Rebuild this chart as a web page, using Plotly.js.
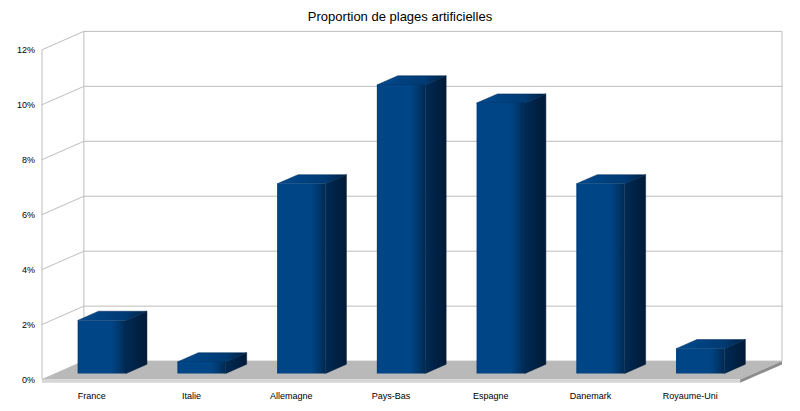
<!DOCTYPE html>
<html>
<head>
<meta charset="utf-8">
<script src="https://cdn.plot.ly/plotly-3.0.1.min.js"></script>
<style>
  body { margin: 0; background: #fff; }
  #chart { width: 800px; height: 411px; }
</style>
</head>
<body>
<div id="chart"></div>
<script>
        // data (percent)
        const countries = ["France", "Italie", "Allemagne", "Pays-Bas", "Espagne", "Danemark", "Royaume-Uni"];
        const shares = [1.93, 0.42, 6.9, 10.5, 9.84, 6.9, 0.9];
        const yTicks = [0, 2, 4, 6, 8, 10, 12];
        const yTickText = ["0%", "2%", "4%", "6%", "8%", "10%", "12%"];

        // fake 3D: oblique offset from front plane to back wall, in axis units
        const backDx = 0.42, backDy = 0.67;
        const faceDx = 0.1, faceDy = 0.22;   // front face of the bars
        const depthDx = 0.21, depthDy = 0.335; // bar depth
        const barW = 0.485;

        let traces = [];
        shares.forEach((v, i) => {
            let x0 = i - barW / 2 + faceDx, x1 = i + barW / 2 + faceDx;
            let y0 = faceDy, y1 = faceDy + v;
            // right side
            traces.push({
                x: [x1, x1 + depthDx, x1 + depthDx, x1, x1],
                y: [y0, y0 + depthDy, y1 + depthDy, y1, y0],
                type: 'scatter', mode: 'lines', fill: 'toself',
                line: { width: 0.5, color: '#001a36' },
                fillgradient: { type: 'horizontal', colorscale: [[0, '#002a55'], [1, '#001a36']] },
                hoverinfo: 'skip', showlegend: false
            });
            // top
            traces.push({
                x: [x0, x1, x1 + depthDx, x0 + depthDx, x0],
                y: [y1, y1, y1 + depthDy, y1 + depthDy, y1],
                type: 'scatter', mode: 'lines', fill: 'toself',
                line: { width: 0.5, color: '#002a55' },
                fillgradient: { type: 'horizontal', colorscale: [[0, '#004a8e'], [0.7, '#003a73'], [1, '#001f40']] },
                hoverinfo: 'skip', showlegend: false
            });
            // front
            traces.push({
                x: [x0, x1, x1, x0, x0],
                y: [y0, y0, y1, y1, y0],
                type: 'scatter', mode: 'lines', fill: 'toself',
                line: { width: 0 },
                fillgradient: { type: 'horizontal', colorscale: [[0, '#003f7c'], [0.06, '#004586'], [0.7, '#004586'], [0.88, '#003669'], [1, '#002850']] },
                text: countries[i] + ': ' + v + '%', hoverinfo: 'text', showlegend: false
            });
        });

        const grid = '#bdbdbd';
        let shapes = [];
        // floor
        shapes.push({ type: 'path', layer: 'below', path: 'M-0.5,0 L6.5,0 L6.92,0.67 L-0.08,0.67 Z', fillcolor: '#b9b9b9', line: { width: 0 } });
        shapes.push({ type: 'path', layer: 'below', path: 'M-0.5,0 L6.5,0 L6.5,-0.12 L-0.5,-0.12 Z', fillcolor: '#d6d6d6', line: { width: 0 } });
        shapes.push({ type: 'path', layer: 'below', path: 'M6.5,0 L6.92,0.67 L6.92,0.55 L6.5,-0.12 Z', fillcolor: '#8c8c8c', line: { width: 0 } });
        // walls
        yTicks.forEach(t => {
            shapes.push({ type: 'line', layer: 'below', x0: -0.08, x1: 6.92, y0: t + backDy, y1: t + backDy, line: { color: grid, width: 1 } });
            shapes.push({ type: 'line', layer: 'below', x0: -0.5, x1: -0.08, y0: t, y1: t + backDy, line: { color: grid, width: 1 } });
        });
        shapes.push({ type: 'line', layer: 'below', x0: -0.5, x1: -0.5, y0: 0, y1: 12, line: { color: grid, width: 1 } });
        shapes.push({ type: 'line', layer: 'below', x0: -0.08, x1: -0.08, y0: backDy, y1: 12 + backDy, line: { color: grid, width: 1 } });
        shapes.push({ type: 'line', layer: 'below', x0: 6.92, x1: 6.92, y0: backDy, y1: 12 + backDy, line: { color: grid, width: 1 } });

        const layout = {
            width: 800, height: 411,
            margin: { l: 40, r: 14, t: 30, b: 26 },
            paper_bgcolor: '#ffffff', plot_bgcolor: 'rgba(0,0,0,0)',
            font: { family: 'Liberation Sans, Arial, sans-serif', size: 9, color: '#000' },
            title: { text: 'Proportion de plages artificielles', font: { size: 13, color: '#000' }, x: 0.5, xanchor: 'center', y: 0.972, yanchor: 'top' },
            xaxis: {
                range: [-0.52, 6.96], tickvals: countries.map((c, i) => i), ticktext: countries,
                showgrid: false, zeroline: false, showline: false, ticks: '', fixedrange: true,
                ticklabelstandoff: 4
            },
            yaxis: {
                range: [-0.2, 12.72], tickvals: yTicks, ticktext: yTickText,
                showgrid: false, zeroline: false, showline: false, ticks: '', fixedrange: true,
                ticklabelstandoff: 4
            },
            shapes: shapes,
            showlegend: false
        };

        Plotly.newPlot('chart', traces, layout, { displayModeBar: false, staticPlot: true });
</script>
</body>
</html>
